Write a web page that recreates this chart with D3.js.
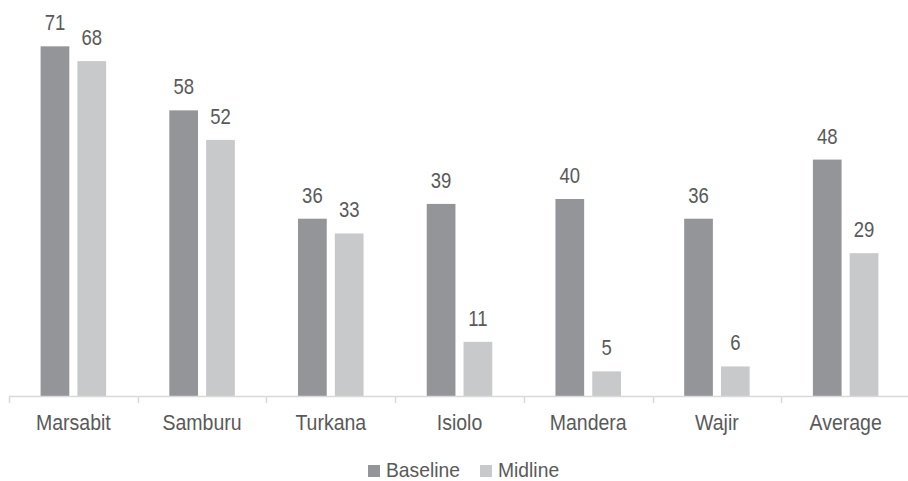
<!DOCTYPE html>
<html><head><meta charset="utf-8">
<script src="https://cdn.jsdelivr.net/npm/d3@7"></script>
<style>body{margin:0;background:#fff}svg{display:block}text{font-family:"Liberation Sans",Arial,sans-serif;fill:#595959}</style>
</head><body>
<script>
const categories = ["Marsabit","Samburu","Turkana","Isiolo","Mandera","Wajir","Average"];
const baseline = [71,58,36,39,40,36,48];
const midline = [68,52,33,11,5,6,29];
const seriesNames = ["Baseline","Midline"];
const colors = ["#939598","#c8c9cb"];

const W=908,H=481;
const svg=d3.select("body").append("svg").attr("width",W).attr("height",H);
const x=d3.scaleBand().domain(categories).range([9,910]).paddingInner(0).paddingOuter(0);
const inner=d3.scaleBand().domain(seriesNames).range([31.6, x.bandwidth()-31.6]).paddingInner(0.22);
const y=d3.scaleLinear().domain([0,80]).range([396,2]);

const data=categories.map((c,i)=>({cat:c,vals:[baseline[i],midline[i]]}));
const g=svg.append("g");
const grp=g.selectAll("g.c").data(data).join("g").attr("transform",d=>`translate(${x(d.cat)},0)`);
grp.selectAll("rect").data(d=>d.vals.map((v,j)=>({v,s:seriesNames[j],j})))
 .join("rect").attr("x",d=>inner(d.s)).attr("width",inner.bandwidth())
 .attr("y",d=>y(d.v)).attr("height",d=>y(0)-y(d.v)).attr("fill",d=>colors[d.j]);
grp.selectAll("text.v").data(d=>d.vals.map((v,j)=>({v,s:seriesNames[j],j})))
 .join("text").attr("class","v")
 .attr("transform",d=>`translate(${inner(d.s)+inner.bandwidth()/2},${y(d.v)-16}) scale(1,1.16)`)
 .attr("text-anchor","middle").style("font-size","18.5px").text(d=>d.v);

// axis
const ax=svg.append("g");
ax.append("line").attr("x1",9).attr("x2",908).attr("y1",396.5).attr("y2",396.5).attr("stroke","#d9d9d9").attr("stroke-width",1.5);
categories.forEach(c=>{
  ax.append("line").attr("x1",Math.round(x(c))+0.5).attr("x2",Math.round(x(c))+0.5).attr("y1",396).attr("y2",403).attr("stroke","#d9d9d9").attr("stroke-width",1.5);
});
ax.selectAll("text").data(categories).join("text")
 .attr("transform",d=>`translate(${x(d)+x.bandwidth()/2},430) scale(1,1.12)`)
 .attr("text-anchor","middle").style("font-size","19.5px").text(d=>d);

// legend
const lg=svg.append("g");
const lx=[368,480];
seriesNames.forEach((s,i)=>{
  lg.append("rect").attr("x",lx[i]).attr("y",465).attr("width",12).attr("height",12).attr("fill",colors[i]);
  lg.append("text").attr("transform",`translate(${lx[i]+18},477) scale(1,1.02)`).style("font-size","19.3px").text(s);
});
</script>
</body></html>
